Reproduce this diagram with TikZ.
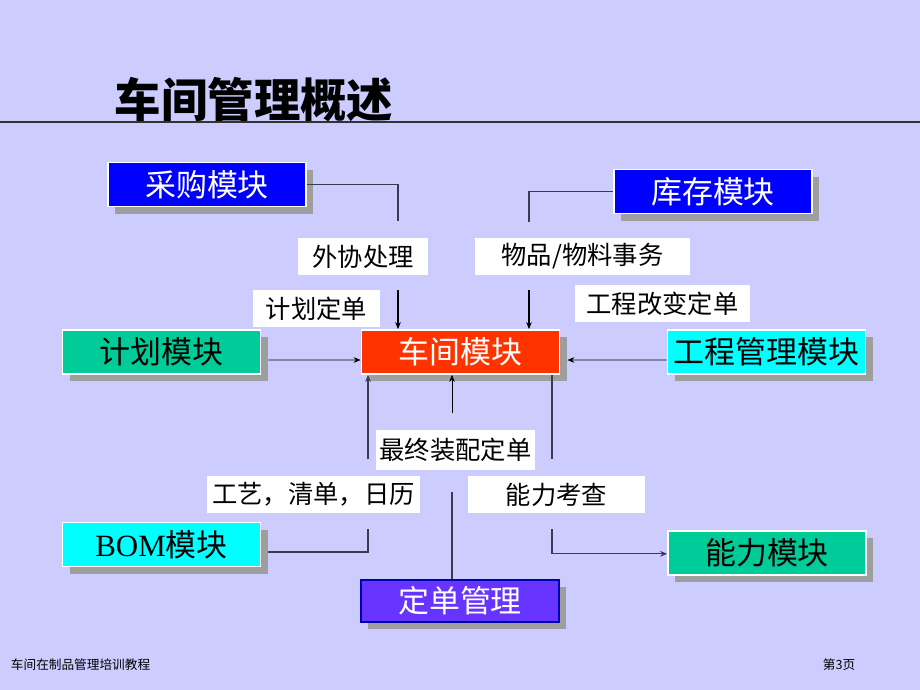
\documentclass[tikz,border=0pt]{standalone}
\usepackage{fontspec}
\newfontfamily\cjk{Noto Sans CJK SC}
\newfontfamily\latin{Liberation Serif}
\usetikzlibrary{arrows.meta, positioning, shadows, calc}
\definecolor{bgviolet}{HTML}{CCCCFF}
\definecolor{modblue}{HTML}{0000FF}
\definecolor{modgreen}{HTML}{00CC99}
\definecolor{modred}{HTML}{FF3300}
\definecolor{modcyan}{HTML}{00FFFF}
\definecolor{modpurple}{HTML}{6633FF}
\definecolor{wire}{HTML}{3A3A50}

\begin{document}
\begin{tikzpicture}[x=0.025cm, y=-0.025cm, font=\cjk,
  module/.style={draw=white, line width=1.2pt, fill=#1, minimum width=4.95cm,
                 minimum height=1.1cm, inner sep=0pt, font=\cjk\fontsize{22}{24}\selectfont,
                 drop shadow={shadow xshift=0.18cm, shadow yshift=-0.18cm,
                              fill=black!38, opacity=1}},
  tag/.style={fill=white, inner sep=0pt, minimum height=0.93cm,
              font=\cjk\fontsize{18}{20}\selectfont},
  wire/.style={draw=wire, line width=0.9pt},
  flow/.style={draw=black, line width=0.9pt, -{Stealth[length=5pt, width=4pt]}}]

  % page
  \fill[bgviolet] (0,0) rectangle (920,690);
  \useasboundingbox (0,0) rectangle (920,690);

  % title
  \node[text=black, font=\cjk\fontsize{33}{36}\selectfont\bfseries] (title) at (254,100) {车间管理概述};
  \draw[draw=black!80, line width=1pt] (0,122) -- (920,122);

  % modules
  \node[module=modblue, text=white]    (purch) at (207,184.5) {采购模块};
  \node[module=modblue, text=white]    (stock) at (713,191.5) {库存模块};
  \node[module=modgreen]               (plan)  at (161.5,352) {计划模块};
  \node[module=modred, text=white]     (shop)  at (460.5,352) {车间模块};
  \node[module=modcyan]                (eng)   at (766.5,352) {工程管理模块};
  \node[module=modcyan]                (bom)   at (161.5,544.5) {{\latin BOM}模块};
  \node[module=modgreen]               (cap)   at (767,553) {能力模块};
  \node[module=modpurple, text=white, draw=blue!70!black, line width=0.8pt,
        minimum height=1.05cm]         (order) at (460,601) {定单管理};

  % flow labels
  \node[tag, minimum width=3.25cm]  (outs)  at (363,256.5)   {外协处理};
  \node[tag, minimum width=5.38cm]  (items) at (582.5,256.5) {物品/物料事务};
  \node[tag, minimum width=3.18cm]  (plord) at (316.5,308.5) {计划定单};
  \node[tag, minimum width=4.38cm]  (ecord) at (662.5,303.5) {工程改变定单};
  \node[tag, minimum width=3.98cm, minimum height=1cm] (final) at (455.5,450) {最终装配定单};
  \node[tag, minimum width=5.33cm]  (route) at (313.5,494.5) {工艺，清单，日历};
  \node[tag, minimum width=4.43cm]  (check) at (556.5,494.5) {能力考查};

  % free ends
  \coordinate (p1) at (398,221);
  \coordinate (s1) at (529,222);
  \coordinate (p2) at (398,290);
  \coordinate (s2) at (529,290);
  \coordinate (u1) at (368,459);
  \coordinate (u2) at (452,413);
  \coordinate (d1) at (552,459);
  \coordinate (o1) at (452,492);
  \coordinate (b1) at (368,529);
  \coordinate (c1) at (552,529);

  % connectors
  \draw[wire] (purch.east) -| (p1);
  \draw[wire] (stock.west) -| (s1);
  \draw[flow] (p2) -- (p2 |- shop.north);
  \draw[flow] (s2) -- (s2 |- shop.north);
  \draw[flow, line width=0.6pt] ([shift={(7,8)}]plan.east) -- ([yshift=-0.2cm]shop.west);
  \draw[flow, line width=0.6pt] ([yshift=-0.2cm]eng.west) -- ([shift={(7,8)}]shop.east);
  \draw[flow, draw=wire] (u1) -- (u1 |- shop.south);
  \draw[flow, line width=0.6pt] (u2) -- (u2 |- shop.south);
  \draw[wire] (d1 |- shop.south) -- (d1);
  \draw[wire] (o1) -- (o1 |- order.north);
  \draw[wire] ([shift={(7,7.5)}]bom.east) -| (b1);
  \draw[flow, draw=wire] (c1) |- ([yshift=-0.02cm]cap.west);

  % footer
  \node[anchor=west, font=\cjk\fontsize{9}{10}\selectfont] (foot) at (6,665) {车间在制品管理培训教程};
  \node[anchor=west, font=\cjk\fontsize{9}{10}\selectfont] (page) at (818,665) {第3页};
\end{tikzpicture}
\end{document}
